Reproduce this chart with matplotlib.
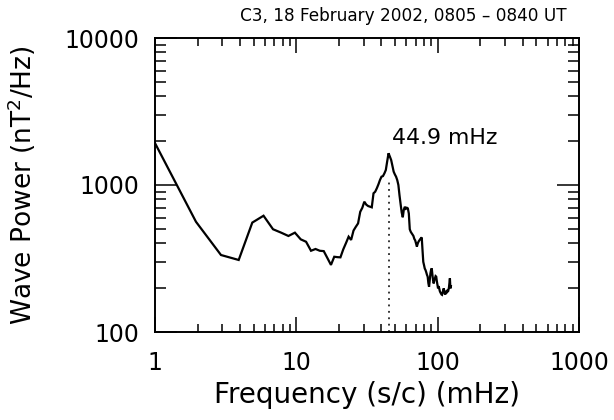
"""
Wave power spectrum, C3, 18 February 2002 (0805 - 0840 UT).

Log-log spectrum with the peak frequency marked by a dotted line.
Output: out.png
"""

import matplotlib
matplotlib.use("Agg")
import matplotlib.pyplot as plt
from matplotlib.ticker import LogLocator, NullFormatter, FixedLocator


# Frequency bins (mHz), spacing 1/1024 Hz
freq = [
    0.98, 1.95, 2.93, 3.91, 4.88, 5.86, 6.84, 7.81, 8.79, 9.77,
    10.74, 11.72, 12.70, 13.67, 14.65, 15.63, 16.60, 17.58, 18.55, 19.53,
    20.51, 21.48, 22.46, 23.44, 24.41, 25.39, 26.37, 27.34, 28.32, 29.30,
    30.27, 31.25, 32.23, 33.20, 34.18, 35.16, 36.13, 37.11, 38.09, 39.06,
    40.04, 41.02, 41.99, 42.97, 43.95, 44.92, 45.90, 46.88, 47.85, 48.83,
    49.80, 50.78, 51.76, 52.73, 53.71, 54.69, 55.66, 56.64, 57.62, 58.59,
    59.57, 60.55, 61.52, 62.50, 63.48, 64.45, 65.43, 66.41, 67.38, 68.36,
    69.34, 70.31, 71.29, 72.27, 73.24, 74.22, 75.20, 76.17, 77.15, 78.13,
    79.10, 80.08, 81.05, 82.03, 83.01, 83.98, 84.96, 85.94, 86.91, 87.89,
    88.87, 89.84, 90.82, 91.80, 92.77, 93.75, 94.73, 95.70, 96.68, 97.66,
    98.63, 99.61, 100.59, 101.56, 102.54, 103.52, 104.49, 105.47, 106.45, 107.42,
    108.40, 109.38, 110.35, 111.33, 112.30, 113.28, 114.26, 115.23, 116.21, 117.19,
    118.16, 119.14, 120.12, 121.09, 122.07, 123.05, 124.02,
]

# Wave power (nT^2/Hz)
power = [
    2000, 562, 334, 309, 555, 618, 500, 474, 450, 474,
    427, 411, 357, 367, 357, 355, 318, 286, 325, 323,
    322, 365, 403, 445, 423, 490, 520, 548, 657, 700,
    770, 735, 719, 712, 705, 878, 900, 950, 1010, 1081,
    1139, 1150, 1200, 1265, 1450, 1644, 1560, 1479, 1350, 1232,
    1180, 1139, 1080, 1000, 850, 740, 650, 603, 680, 711,
    690, 700, 693, 640, 500, 481, 470, 460, 450, 430,
    420, 400, 381, 400, 412, 420, 428, 434, 440, 360,
    300, 285, 270, 264, 255, 245, 238, 215, 203, 225,
    250, 265, 271, 245, 225, 214, 225, 232, 240, 238,
    222, 210, 198, 205, 198, 190, 186, 183, 180, 179,
    185, 192, 198, 190, 183, 180, 185, 183, 190, 193,
    187, 193, 200, 215, 232, 198, 205,
]

peak_freq = 44.9
peak_marker_top = 1080
peak_label = "44.9 mHz"

x_ticks = [1, 10, 100, 1000]
x_ticklabels = ["1", "10", "100", "1000"]
y_ticks = [100, 1000, 10000]
y_ticklabels = ["100", "1000", "10000"]

title = "C3, 18 February 2002, 0805 \u2013 0840 UT"

plt.rcParams["font.family"] = ["DejaVu Sans"]
plt.rcParams["mathtext.fontset"] = "dejavusans"

fig = plt.figure(figsize=(6.14, 4.20), dpi=100)
ax = fig.add_axes([155 / 614, 1 - 332 / 420, 424 / 614, 294 / 420])

ax.plot(freq, power, color="black", linewidth=1.6, solid_joinstyle="miter")
ax.plot([peak_freq, peak_freq], [100, peak_marker_top], color="black",
        linewidth=1.1, linestyle=(0, (1.2, 3.0)))

ax.set_xscale("log")
ax.set_yscale("log")
ax.set_xlim(1, 1000)
ax.set_ylim(100, 10000)

# IDL-style box: ticks inward on all four sides
ax.xaxis.set_major_locator(FixedLocator(x_ticks))
ax.set_xticklabels(x_ticklabels)
ax.yaxis.set_major_locator(FixedLocator(y_ticks))
ax.set_yticklabels(y_ticklabels)
for axis in (ax.xaxis, ax.yaxis):
    axis.set_minor_locator(LogLocator(base=10, subs=range(2, 10), numticks=20))
    axis.set_minor_formatter(NullFormatter())

ax.tick_params(axis="both", which="both", direction="in", top=True, right=True,
               width=1.1, colors="black", labelsize=17)
ax.tick_params(axis="x", which="major", length=10.8, pad=14)
ax.tick_params(axis="x", which="minor", length=5.6)
ax.tick_params(axis="y", which="major", length=15.8, pad=11)
ax.tick_params(axis="y", which="minor", length=7.9)
for spine in ax.spines.values():
    spine.set_linewidth(1.4)

ax.set_xlabel("Frequency (s/c) (mHz)", fontsize=20, va="center")
ax.xaxis.set_label_coords(0.5, -(395 - 332) / 294)
ax.set_ylabel(r"Wave Power (nT$^{2}$/Hz)", fontsize=19, va="center")
ax.yaxis.set_label_coords((22 - 155) / 424, 0.5)

ax.text(47.3, 2090, peak_label, fontsize=15.8, ha="left", va="center")

fig.text(403 / 614, 1 - 21 / 420, title, fontsize=12.2, ha="center", va="baseline")

fig.savefig("out.png", dpi=100)
